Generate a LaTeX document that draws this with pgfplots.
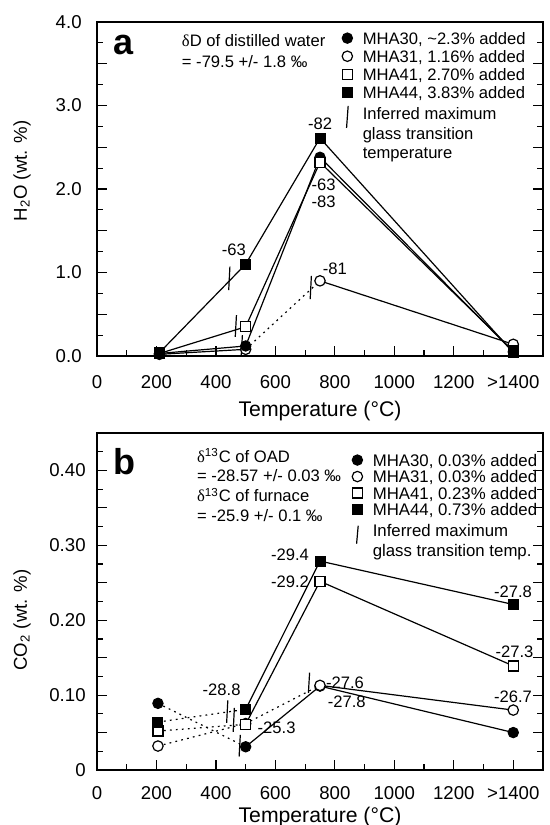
\documentclass[border=0pt]{standalone}
\usepackage{fontspec}
\setmainfont{Liberation Sans}
\newfontfamily\grk{Liberation Serif}
\usepackage{pgfplots}
\usepackage{pgfplotstable}
\pgfplotsset{compat=1.18}

\newcommand\ann{\fontsize{8.3bp}{10bp}\selectfont}
\newcommand\dlt{{\grk δ}}

% ---------- panel a: H2O ----------
\pgfplotstableread{
T    v
210  0.03
500  0.12
750  2.38
1400 0.05
}\aThirty
\pgfplotstableread{
T    v
210  0.02
500  0.08
750  0.90
1400 0.14
}\aThirtyOne
\pgfplotstableread{
T    v
210  0.03
500  0.35
750  2.32
1400 0.06
}\aFortyOne
\pgfplotstableread{
T    v
210  0.04
500  1.10
750  2.61
1400 0.04
}\aFortyFour
% inferred glass transition marks (pairs, nan = break)
\pgfplotstableread{
T    v
443  0.79
447  1.07
nan  nan
465  0.23
469  0.49
nan  nan
485  0.00
489  0.25
nan  nan
717  0.68
721  0.96
}\aGlass

% ---------- panel b: CO2 ----------
\pgfplotstableread{
T    v
205  0.089
500  0.031
750  0.112
1400 0.050
}\bThirty
\pgfplotstableread{
T    v
205  0.032
500  0.062
750  0.113
1400 0.080
}\bThirtyOne
\pgfplotstableread{
T    v
205  0.052
500  0.061
750  0.252
1400 0.139
}\bFortyOne
\pgfplotstableread{
T    v
205  0.064
500  0.081
750  0.279
1400 0.221
}\bFortyFour
\pgfplotstableread{
T    v
436  0.063
440  0.093
nan  nan
458  0.051
462  0.083
nan  nan
478  0.018
482  0.047
nan  nan
711  0.103
715  0.130
}\bGlass

\tikzset{
  s30/.style={mark=*, mark size=2.6bp, mark options={solid, draw=black, fill=black, line width=0.5bp}},
  s31/.style={mark=*, mark size=2.6bp, mark options={solid, draw=black, fill=white, line width=0.6bp}},
  s41/.style={mark=square*, mark size=2.5bp, mark options={solid, draw=black, fill=white, line width=0.6bp}},
  s44/.style={mark=square*, mark size=2.5bp, mark options={solid, draw=black, fill=black, line width=0.5bp}},
}
\pgfplotsset{
  seg/.style={black, line width=0.6bp, no marks, forget plot},
  dots/.style={seg, dash pattern=on 0.9bp off 2.1bp},
  glass/.style={black, line width=0.6bp, no marks, forget plot, unbounded coords=jump},
  panel/.style={
    scale only axis, width=223bp, anchor=south west,
    xmin=0, xmax=1500,
    xtick={0,200,400,600,800,1000,1200,1400},
    xticklabels={0,200,400,600,800,1000,1200,>1400},
    minor xtick={100,300,500,700,900,1100,1300},
    xtick pos=left,
    tick align=inside,
    major tick length=5bp, minor tick length=3bp,
    every tick/.style={black, line width=0.6bp},
    axis line style={line width=0.75bp},
    tick label style={font=\fontsize{9.3bp}{11bp}\selectfont},
    xticklabel style={anchor=center, inner sep=0pt},
    yticklabel style={anchor=east, inner sep=0pt},
    xlabel={Temperature (°C)},
    xlabel style={at={(rel axis cs:0.5,0)}, anchor=center, font=\fontsize{10.6bp}{12bp}\selectfont},
    ylabel style={anchor=center, yshift=37.5bp, font=\fontsize{9.3bp}{11bp}\selectfont},
    clip=false,
    legend style={draw=none, fill=none, anchor=north west, inner sep=0pt, outer sep=0pt,
      row sep=0pt, column sep=4.5bp, cells={anchor=base west}, nodes={inner sep=0pt}},
    legend image code/.code={\path (0bp,0bp) (6bp,0bp);
      \draw[mark repeat=2,mark phase=2,##1] plot coordinates {(0bp,3bp)(3bp,3bp)(6bp,3bp)};},
  },
}

\begin{document}
\begin{tikzpicture}
% ================= a =================
\begin{axis}[panel, at={(48.5bp,234.5bp)}, height=167bp,
  ymin=0, ymax=4,
  ytick={0,0.5,1,1.5,2,2.5,3,3.5,4},
  yticklabels={0.0,,1.0,,2.0,,3.0,,4.0},
  minor ytick={0.25,0.75,1.25,1.75,2.25,2.75,3.25,3.75},
  ylabel={H\textsubscript{2}O (wt. \%)},
  ylabel style={at={(rel axis cs:0,0.554)}},
  xticklabel style={yshift=-13bp},
  yticklabel style={xshift=-7.5bp},
  xlabel style={yshift=-27.5bp},
  legend style={at={(axis description cs:0.547,0.979)}, font=\fontsize{8.3bp}{10.8bp}\selectfont},
]
\addplot[seg] table {\aThirty};
\addplot[seg] table {\aFortyOne};
\addplot[seg] table {\aFortyFour};
\addplot[seg, restrict x to domain=0:500] table {\aThirtyOne};
\addplot[dots, restrict x to domain=500:750] table {\aThirtyOne};
\addplot[seg, restrict x to domain=750:1500] table {\aThirtyOne};
\addplot[glass] table {\aGlass};
\addplot[only marks, s31, forget plot] table {\aThirtyOne};
\addplot[only marks, s30, forget plot] table {\aThirty};
\addplot[only marks, s41, forget plot] table {\aFortyOne};
\addplot[only marks, s44, forget plot] table {\aFortyFour};

\addlegendimage{only marks, s30}
\addlegendentry{\strut MHA30, \textasciitilde2.3\% added}
\addlegendimage{only marks, s31}
\addlegendentry{\strut MHA31, 1.16\% added}
\addlegendimage{only marks, s41}
\addlegendentry{\strut MHA41, 2.70\% added}
\addlegendimage{only marks, s44}
\addlegendentry{\strut MHA44, 3.83\% added}
\addlegendimage{legend image code/.code={\path (0bp,0bp) (6bp,0bp);
  \draw[black, line width=0.6bp] (2.6bp,-4bp) -- (3.4bp,7bp);}}
\addlegendentry{{\def\arraystretch{0.9}\begin{tabular}[t]{@{}l@{}}\rule{0pt}{9.26bp}Inferred maximum\\glass transition\\temperature\end{tabular}}}

\node[font=\bfseries\fontsize{18bp}{18bp}\selectfont] at (axis cs:88,3.72) {a};
\node[font=\ann, anchor=west] at (axis cs:262,3.78) {\dlt D of distilled water};
\node[font=\ann, anchor=west] at (axis cs:262,3.53) {= -79.5 +/- 1.8 ‰};
\node[font=\ann] at (axis cs:750,2.78) {-82};
\node[font=\ann] at (axis cs:762,2.05) {-63};
\node[font=\ann] at (axis cs:762,1.85) {-83};
\node[font=\ann] at (axis cs:460,1.27) {-63};
\node[font=\ann] at (axis cs:800,1.05) {-81};
\end{axis}

% ================= b =================
\begin{axis}[panel, at={(48.5bp,27.5bp)}, height=168.5bp,
  ymin=0, ymax=0.45,
  ytick={0,0.05,0.1,0.15,0.2,0.25,0.3,0.35,0.4,0.45},
  yticklabels={0,,0.10,,0.20,,0.30,,0.40,},
  minor ytick={0.025,0.075,0.125,0.175,0.225,0.275,0.325,0.375,0.425},
  ylabel={CO\textsubscript{2} (wt. \%)},
  ylabel style={at={(rel axis cs:0,0.445)}},
  xticklabel style={yshift=-11.5bp},
  yticklabel style={xshift=-5.5bp},
  xlabel style={yshift=-23.5bp},
  legend style={at={(axis description cs:0.5695,0.942)}, font=\fontsize{8.4bp}{9.65bp}\selectfont},
]
\addplot[dots, restrict x to domain=0:500] table {\bThirty};
\addplot[seg, restrict x to domain=500:1500] table {\bThirty};
\addplot[dots, restrict x to domain=0:750] table {\bThirtyOne};
\addplot[seg, restrict x to domain=750:1500] table {\bThirtyOne};
\addplot[dots, restrict x to domain=0:500] table {\bFortyOne};
\addplot[seg, restrict x to domain=500:1500] table {\bFortyOne};
\addplot[dots, restrict x to domain=0:500] table {\bFortyFour};
\addplot[seg, restrict x to domain=500:1500] table {\bFortyFour};
\addplot[glass] table {\bGlass};
\addplot[only marks, s30, forget plot] table {\bThirty};
\addplot[only marks, s31, forget plot] table {\bThirtyOne};
\addplot[only marks, s41, forget plot] table {\bFortyOne};
\addplot[only marks, s44, forget plot] table {\bFortyFour};

\addlegendimage{only marks, s30}
\addlegendentry{\strut MHA30, 0.03\% added}
\addlegendimage{only marks, s31}
\addlegendentry{\strut MHA31, 0.03\% added}
\addlegendimage{only marks, s41}
\addlegendentry{\strut MHA41, 0.23\% added}
\addlegendimage{only marks, s44}
\addlegendentry{\strut MHA44, 0.73\% added}
\addlegendimage{legend image code/.code={\path (0bp,0bp) (6bp,0bp);
  \draw[black, line width=0.6bp] (2.6bp,-3.5bp) -- (3.4bp,5.5bp);}}
\addlegendentry{{\def\arraystretch{1.03}\begin{tabular}[t]{@{}l@{}}\rule{0pt}{9.1bp}Inferred maximum\\glass transition temp.\end{tabular}}}

\node[font=\bfseries\fontsize{18bp}{18bp}\selectfont] at (axis cs:91,0.412) {b};
\node[font=\ann, anchor=west] at (axis cs:313,0.420) {\dlt\textsuperscript{13}C of OAD};
\node[font=\ann, anchor=west] at (axis cs:313,0.393) {= -28.57 +/- 0.03 ‰};
\node[font=\ann, anchor=west] at (axis cs:313,0.367) {\dlt\textsuperscript{13}C of furnace};
\node[font=\ann, anchor=west] at (axis cs:313,0.340) {= -25.9 +/- 0.1 ‰};
\node[font=\ann] at (axis cs:649,0.287) {-29.4};
\node[font=\ann] at (axis cs:649,0.251) {-29.2};
\node[font=\ann] at (axis cs:1399,0.238) {-27.8};
\node[font=\ann] at (axis cs:1404,0.158) {-27.3};
\node[font=\ann] at (axis cs:1399,0.098) {-26.7};
\node[font=\ann] at (axis cs:834,0.116) {-27.6};
\node[font=\ann] at (axis cs:840,0.091) {-27.8};
\node[font=\ann] at (axis cs:604,0.057) {-25.3};
\node[font=\ann] at (axis cs:419,0.107) {-28.8};
\end{axis}
\pgfresetboundingbox
\path[use as bounding box] (0,0) rectangle (275bp,412.5bp);
\end{tikzpicture}
\end{document}
